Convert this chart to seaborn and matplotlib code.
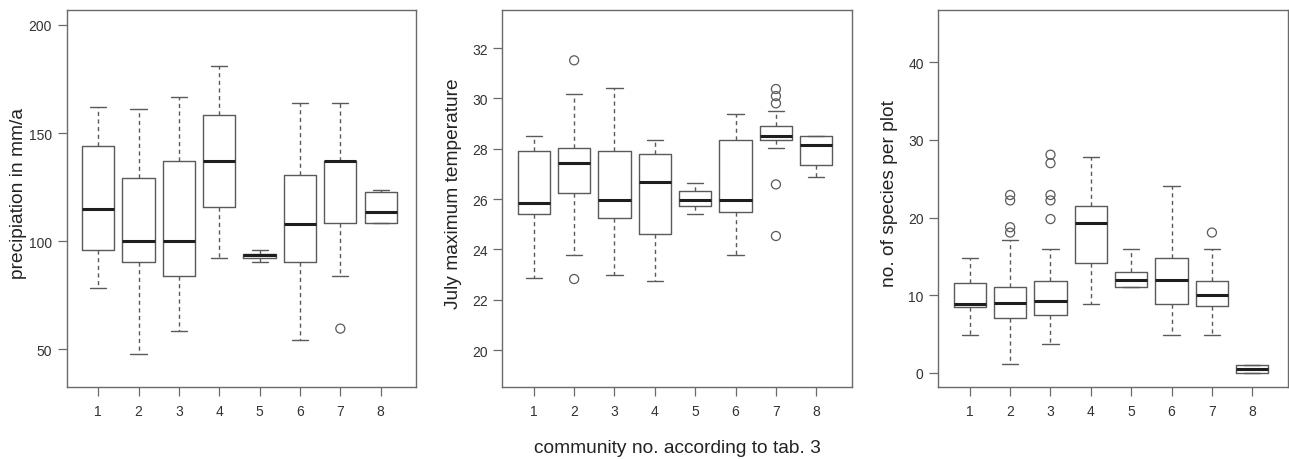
import matplotlib
matplotlib.use("Agg")
import matplotlib.pyplot as plt
import seaborn as sns
import pandas as pd

# ---------------- data ----------------
communities = ["1", "2", "3", "4", "5", "6", "7", "8"]

# panel 1: precipitation in mm/a  (whisker low, Q1, median, Q3, whisker high)
prec_low = [78.5, 48.0, 58.5, 92.1, 90.6, 54.5, 83.8, 108.2]
prec_q1 = [96.1, 90.6, 83.8, 115.9, 92.4, 90.6, 108.2, 108.2]
prec_med = [115.0, 100.2, 100.2, 137.2, 93.4, 108.0, 137.2, 113.4]
prec_q3 = [144.0, 129.2, 137.3, 158.3, 94.3, 130.6, 137.2, 122.7]
prec_high = [162.2, 161.3, 166.5, 181.0, 96.1, 163.7, 163.7, 123.9]
prec_out_cat = ["7"]
prec_out_val = [59.6]

# panel 2: July maximum temperature
temp_low = [22.88, 23.77, 22.97, 22.74, 25.40, 23.77, 28.01, 26.87]
temp_q1 = [25.40, 26.22, 25.25, 24.59, 25.73, 25.50, 28.35, 27.35]
temp_med = [25.86, 27.45, 25.98, 26.66, 25.98, 25.98, 28.50, 28.14]
temp_q3 = [27.90, 28.01, 27.90, 27.78, 26.30, 28.35, 28.91, 28.49]
temp_high = [28.49, 30.18, 30.42, 28.35, 26.64, 29.39, 29.48, 28.49]
temp_out_cat = ["2", "2", "7", "7", "7", "7", "7"]
temp_out_val = [31.51, 22.82, 30.37, 30.09, 29.80, 26.58, 24.53]

# panel 3: number of species per plot
spec_low = [4.9, 1.1, 3.7, 8.9, 11.1, 4.9, 4.9, 0.0]
spec_q1 = [8.5, 7.0, 7.4, 14.1, 11.1, 8.9, 8.6, 0.0]
spec_med = [8.9, 8.95, 9.25, 19.3, 11.9, 11.9, 10.06, 0.45]
spec_q3 = [11.5, 11.1, 11.8, 21.5, 13.0, 14.84, 11.8, 1.0]
spec_high = [14.84, 17.1, 16.0, 27.8, 16.0, 24.1, 16.0, 1.0]
spec_out_cat = ["2", "2", "2", "2", "3", "3", "3", "3", "3", "7"]
spec_out_val = [22.9, 22.2, 18.75, 18.06, 28.1, 27.0, 22.9, 22.2, 19.8, 18.06]

y_labels = ["precipiation in mm/a", "July maximum temperature", "no. of species per plot"]
y_ticks = [[50, 100, 150, 200], [20, 22, 24, 26, 28, 30, 32], [0, 10, 20, 30, 40]]
x_label = "community no. according to tab. 3"

# ---------------- styling ----------------
sns.set_style("white")
plt.rcParams["font.family"] = ["Liberation Sans", "DejaVu Sans"]

FRAME = "#6a6a6a"
BOXC = "#5a5a5a"
TEXTC = "#333333"

fig = plt.figure(figsize=(12.89, 4.60), dpi=100)
W, H = 1289.0, 460.0
lefts = [66.7, 502.3, 938.3]
ax_w = 349.5
ax_top, ax_bot = 11.0, 388.0
ylims = [(32.6, 206.9), (18.53, 33.51), (-1.85, 46.75)]

panels = [
    (prec_low, prec_q1, prec_med, prec_q3, prec_high, prec_out_cat, prec_out_val),
    (temp_low, temp_q1, temp_med, temp_q3, temp_high, temp_out_cat, temp_out_val),
    (spec_low, spec_q1, spec_med, spec_q3, spec_high, spec_out_cat, spec_out_val),
]

for k, (lo, q1, med, q3, hi, oc, ov) in enumerate(panels):
    ax = fig.add_axes([lefts[k] / W, (H - ax_bot) / H, ax_w / W, (ax_bot - ax_top) / H])
    rows = []
    for i, c in enumerate(communities):
        for v in (lo[i], q1[i], med[i], q3[i], hi[i]):
            rows.append({"community": c, "value": v})
    df = pd.DataFrame(rows)
    sns.boxplot(
        data=df, x="community", y="value", order=communities, ax=ax,
        whis=(0, 100), width=0.8, fill=False, color=BOXC, linewidth=1.0,
        showfliers=False,
        medianprops=dict(color="#1e1e1e", linewidth=2.2),
        whiskerprops=dict(color=BOXC, linewidth=1.0, linestyle=(0, (3.0, 2.5))),
        capprops=dict(color=BOXC, linewidth=1.0),
    )
    out_df = pd.DataFrame({"community": oc, "value": ov})
    sns.stripplot(
        data=out_df, x="community", y="value", order=communities, ax=ax,
        jitter=False, size=6.5, color=BOXC, edgecolor=BOXC, linewidth=0.9,
        facecolor="none", legend=False,
    )
    ax.set_xlim(-0.78, 7.88)
    ax.set_ylim(*ylims[k])
    ax.set_yticks(y_ticks[k])
    ax.set_xticks(range(len(communities)))
    ax.set_xticklabels(communities)
    for sp in ax.spines.values():
        sp.set_visible(True)
        sp.set_color(FRAME)
        sp.set_linewidth(1.0)
    ax.tick_params(axis="both", which="both", direction="out", length=6.5,
                   width=0.9, color=FRAME, labelcolor=TEXTC, labelsize=10,
                   bottom=True, left=True)
    ax.tick_params(axis="x", pad=6)
    ax.tick_params(axis="y", pad=4)
    ax.set_xlabel("")
    ax.set_ylabel(y_labels[k], fontsize=13.8, color="#222222")
    ax.yaxis.label.set_va("center")
    ax.yaxis.set_label_coords(-48.5 / ax_w, 0.515)

fig.text((502.3 + 852) / 2 / W, 1 - 449 / H, x_label, ha="center", va="center",
         fontsize=13.8, color="#222222")

fig.savefig("out.png", dpi=100, facecolor="white")
